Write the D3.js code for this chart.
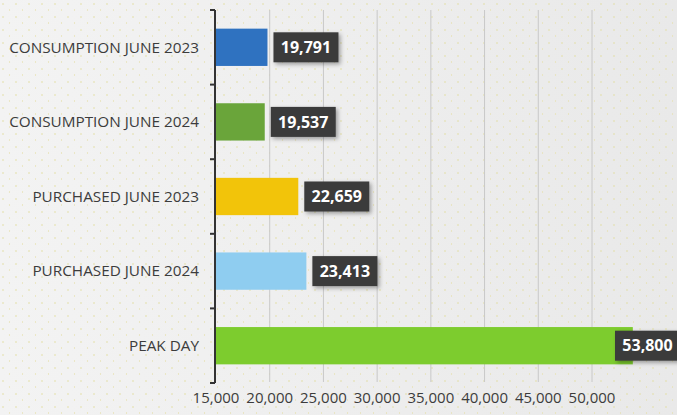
<!DOCTYPE html>
<html>
<head>
<meta charset="utf-8">
<script src="https://cdn.jsdelivr.net/npm/d3@7"></script>
<style>
  html, body { margin: 0; padding: 0; }
  body { width: 677px; height: 415px; overflow: hidden; }
  svg { display: block; }
</style>
</head>
<body>
<svg id="chart"></svg>
<script>
// --- DATA ---
const categories = ["CONSUMPTION JUNE 2023", "CONSUMPTION JUNE 2024", "PURCHASED JUNE 2023", "PURCHASED JUNE 2024", "PEAK DAY"];
const values = [19791, 19537, 22659, 23413, 53800];
const barColors = ["#2f72c0", "#6aa53a", "#f2c40a", "#8fcdf0", "#7dcc2e"];
const xTicks = [15000, 20000, 25000, 30000, 35000, 40000, 45000, 50000];

const width = 677, height = 415;
const axisX = 215;

const svg = d3.select("#chart").attr("width", width).attr("height", height);
const defs = svg.append("defs");

// background: light grey paper, slightly lighter to the left
const bg = defs.append("linearGradient").attr("id", "bg").attr("x1", 0).attr("x2", 1).attr("y1", 0).attr("y2", 0);
bg.append("stop").attr("offset", "0%").attr("stop-color", "#f3f3f3");
bg.append("stop").attr("offset", "100%").attr("stop-color", "#e9e9e9");

const dots = defs.append("pattern").attr("id", "dots").attr("width", 13).attr("height", 13)
    .attr("patternUnits", "userSpaceOnUse");
dots.append("circle").attr("cx", 3).attr("cy", 4).attr("r", 0.8).attr("fill", "#e2dca0");
dots.append("circle").attr("cx", 9.5).attr("cy", 10).attr("r", 0.7).attr("fill", "#e6e0ae");

const shadow = defs.append("filter").attr("id", "shadow").attr("x", "-20%").attr("y", "-30%").attr("width", "150%").attr("height", "170%");
shadow.append("feDropShadow").attr("dx", 2).attr("dy", 2).attr("stdDeviation", 2).attr("flood-color", "#000").attr("flood-opacity", 0.35);

svg.append("rect").attr("width", width).attr("height", height).attr("fill", "url(#bg)");
svg.append("rect").attr("width", width).attr("height", height).attr("fill", "url(#dots)");

// --- SCALES ---
const x = d3.scaleLinear().domain([15000, 50000]).range([216, 592]);
const y = d3.scaleBand().domain(categories).range([10, 383]).paddingInner(0.5).paddingOuter(0.25);

// --- GRIDLINES ---
svg.append("g").selectAll("line")
    .data(xTicks.slice(1)).join("line")
    .attr("x1", d => x(d)).attr("x2", d => x(d))
    .attr("y1", 10).attr("y2", 382)
    .attr("stroke", "#c8c8c8").attr("stroke-width", 1);

// --- X TICK LABELS ---
svg.append("g").selectAll("text")
    .data(xTicks).join("text")
    .attr("x", d => x(d)).attr("y", 403)
    .attr("text-anchor", "middle")
    .attr("font-family", "Open Sans").attr("font-size", 15).attr("fill", "#3c3c3c")
    .text(d => d3.format(",")(d));

// --- BARS ---
const rows = categories.map((c, i) => ({ cat: c, value: values[i], color: barColors[i] }));

svg.append("g").selectAll("rect")
    .data(rows).join("rect")
    .attr("x", axisX)
    .attr("y", d => y(d.cat))
    .attr("width", d => x(d.value) - axisX)
    .attr("height", y.bandwidth())
    .attr("fill", d => d.color);

// --- LEFT AXIS (ticks at band boundaries) ---
const axis = svg.append("g").attr("stroke", "#333").attr("stroke-width", 2);
axis.append("line").attr("x1", axisX).attr("x2", axisX).attr("y1", 10).attr("y2", 383);
const bounds = d3.range(categories.length + 1).map(i => 10 + i * y.step());
axis.selectAll("line.tick").data(bounds).join("line").attr("class", "tick")
    .attr("x1", axisX - 5).attr("x2", axisX).attr("y1", d => d).attr("y2", d => d);

// --- CATEGORY LABELS ---
svg.append("g").selectAll("text")
    .data(categories).join("text")
    .attr("x", 199).attr("y", d => y(d) + y.bandwidth() / 2)
    .attr("dy", "0.35em").attr("text-anchor", "end")
    .attr("font-family", "Open Sans").attr("font-size", 15.3).attr("fill", "#3c3c3c")
    .text(d => d);

// --- VALUE LABELS ---
const boxW = 65, boxH = 30;
const labels = svg.append("g").selectAll("g")
    .data(rows).join("g")
    .attr("transform", d => {
        const bx = Math.min(x(d.value) + 6, width - 62);
        return `translate(${bx},${y(d.cat) + y.bandwidth() / 2 - boxH / 2})`;
    });

labels.append("rect")
    .attr("width", boxW).attr("height", boxH)
    .attr("fill", "#3b3b3b").attr("filter", "url(#shadow)");

labels.append("text")
    .attr("x", boxW / 2).attr("y", boxH / 2).attr("dy", "0.36em")
    .attr("text-anchor", "middle")
    .attr("font-family", "Open Sans").attr("font-weight", "bold").attr("font-size", 16).attr("fill", "#fff")
    .text(d => d3.format(",")(d.value));
</script>
</body>
</html>
